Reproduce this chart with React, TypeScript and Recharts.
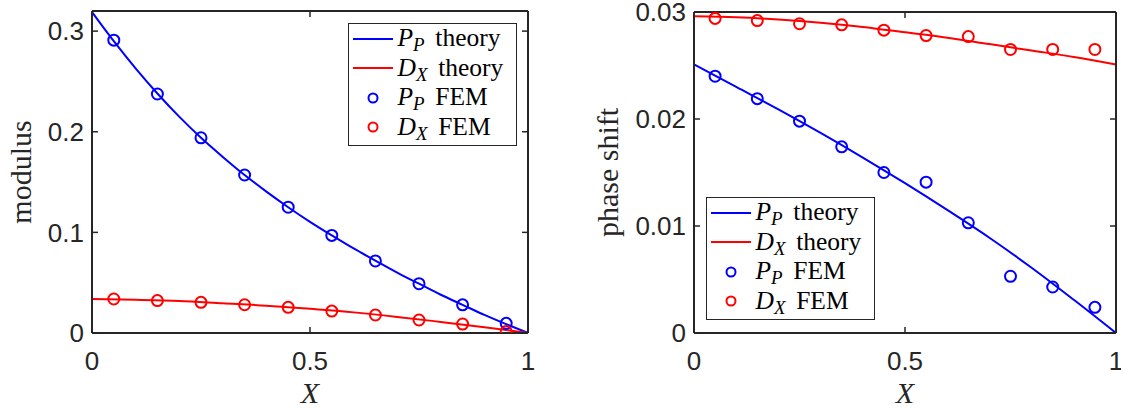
import React from 'react';
import { ComposedChart, Line, Scatter, XAxis, YAxis, Legend } from 'recharts';

// ---- tick values / labels ----
const xTicks = [0, 0.5, 1];
const xTickLabels = ['0', '0.5', '1'];
const modTicks = [0, 0.1, 0.2, 0.3];
const modTickLabels = ['0', '0.1', '0.2', '0.3'];
const phaseTicks = [0, 0.01, 0.02, 0.03];
const phaseTickLabels = ['0', '0.01', '0.02', '0.03'];

// ---- left panel: modulus ----
const modPTheoryX = [0, 0.05, 0.1, 0.15, 0.2, 0.25, 0.3, 0.35, 0.4, 0.45, 0.5, 0.55, 0.6, 0.65, 0.7, 0.75, 0.8, 0.85, 0.9, 0.95, 1];
const modPTheory = [0.319, 0.29, 0.263, 0.238, 0.215, 0.194, 0.175, 0.157, 0.1405, 0.125, 0.1105, 0.097, 0.084, 0.072, 0.06, 0.049, 0.038, 0.028, 0.018, 0.0088, 0];
const modDTheoryX = [0, 0.1, 0.2, 0.3, 0.4, 0.5, 0.6, 0.7, 0.8, 0.9, 1];
const modDTheory = [0.0338, 0.033, 0.0318, 0.0295, 0.0272, 0.024, 0.0205, 0.016, 0.011, 0.0058, 0];
const femX = [0.05, 0.15, 0.25, 0.35, 0.45, 0.55, 0.65, 0.75, 0.85, 0.95];
const modPFem = [0.291, 0.2375, 0.194, 0.157, 0.125, 0.097, 0.0716, 0.049, 0.028, 0.0096];
const modDFem = [0.0338, 0.0322, 0.0305, 0.0281, 0.0255, 0.0218, 0.0179, 0.0129, 0.0089, 0.0015];

// ---- right panel: phase shift ----
const phaseTheoryX = [0, 0.1, 0.2, 0.3, 0.4, 0.5, 0.6, 0.7, 0.8, 0.9, 1];
const phasePTheory = [0.0251, 0.023, 0.0209, 0.0187, 0.0164, 0.014, 0.0115, 0.0089, 0.0061, 0.0031, 0];
const phaseDTheory = [0.0296, 0.0295, 0.0293, 0.029, 0.0286, 0.0281, 0.0276, 0.027, 0.0264, 0.0258, 0.0251];
const phasePFem = [0.024, 0.0219, 0.0198, 0.0174, 0.015, 0.0141, 0.0103, 0.0053, 0.0043, 0.0024];
const phaseDFem = [0.0294, 0.0292, 0.0289, 0.0288, 0.0283, 0.0278, 0.0277, 0.0265, 0.0265, 0.0265];

const BLUE = '#0000ff';
const RED = '#ff0000';
const AXIS = '#262626';

const rows = (xs: number[], ys: number[]) => xs.map((x, i) => ({ x, y: ys[i] }));

const fmt = (ticks: number[], labels: string[]) => (v: number) => {
  const i = ticks.indexOf(v);
  return i >= 0 ? labels[i] : '';
};

const tickStyle = { fill: AXIS, fontSize: 26, fontFamily: '"Liberation Sans", Arial, sans-serif' };
const lineStyle = { stroke: AXIS, strokeWidth: 2 };
const tickLineStyle = { stroke: AXIS, strokeWidth: 1.5 };
const serif = '"Liberation Serif", "Times New Roman", serif';

const circleShape = (color: string) => (p: any) => (
  <circle cx={p.cx} cy={p.cy} r={5.5} fill="none" stroke={color} strokeWidth={2} />
);

const legendEntries = [
  { kind: 'line', color: BLUE, sym: 'P', sub: 'P', text: 'theory' },
  { kind: 'line', color: RED, sym: 'D', sub: 'X', text: 'theory' },
  { kind: 'circle', color: BLUE, sym: 'P', sub: 'P', text: 'FEM' },
  { kind: 'circle', color: RED, sym: 'D', sub: 'X', text: 'FEM' },
];

const LegendBox = () => (
  <div
    style={{
      boxSizing: 'border-box',
      width: 169,
      height: 123,
      border: `1.5px solid ${AXIS}`,
      background: '#fff',
      paddingLeft: 3.5,
      fontFamily: serif,
      fontSize: 25.5,
      color: '#000',
      overflow: 'visible',
    }}
  >
    {legendEntries.map((e, i) => (
      <div key={i} style={{ height: 29.5, display: 'flex', alignItems: 'center', lineHeight: '29.5px', whiteSpace: 'nowrap' }}>
        <svg width={45} height={20} style={{ flex: 'none' }}>
          {e.kind === 'line' ? (
            <line x1={0} y1={10} x2={40} y2={10} stroke={e.color} strokeWidth={2} />
          ) : (
            <circle cx={20} cy={10} r={4.5} fill="none" stroke={e.color} strokeWidth={2} />
          )}
        </svg>
        <span>
          <i>{e.sym}</i>
          <i style={{ fontSize: '0.74em', position: 'relative', top: '0.28em' }}>{e.sub}</i>
          <span style={{ marginLeft: '0.42em' }}>{e.text}</span>
        </span>
      </div>
    ))}
  </div>
);

type PanelProps = {
  width: number;
  yAxisWidth: number;
  rightMargin: number;
  topMargin: number;
  domainMax: number;
  yTicks: number[];
  yLabels: string[];
  yTitle: string;
  yTitleX: number;
  legendLeft: number;
  legendTop: number;
  pTheory: { x: number; y: number }[];
  dTheory: { x: number; y: number }[];
  pFem: { x: number; y: number }[];
  dFem: { x: number; y: number }[];
};

const Panel = (p: PanelProps) => (
  <ComposedChart
    width={p.width}
    height={408}
    margin={{ top: p.topMargin, right: p.rightMargin, bottom: 0, left: 0 }}
  >
    <XAxis
      xAxisId={0}
      dataKey="x"
      type="number"
      domain={[0, 1]}
      ticks={xTicks}
      tickFormatter={fmt(xTicks, xTickLabels)}
      height={75}
      tickSize={-6}
      tickMargin={25}
      axisLine={lineStyle}
      tickLine={tickLineStyle}
      tick={tickStyle}
      interval={0}
      allowDataOverflow
      label={{
        content: (lp: any) => {
          const vb = lp.viewBox;
          return (
            <text
              x={vb.x + vb.width / 2}
              y={vb.y + vb.height - 5}
              textAnchor="middle"
              fontFamily={serif}
              fontStyle="italic"
              fontSize={30}
              fill={AXIS}
            >
              X
            </text>
          );
        },
      }}
    />
    <XAxis
      xAxisId="top"
      dataKey="x"
      orientation="top"
      type="number"
      domain={[0, 1]}
      ticks={xTicks}
      tickFormatter={() => ''}
      height={1}
      tickSize={-6}
      axisLine={lineStyle}
      tickLine={tickLineStyle}
      interval={0}
      allowDataOverflow
    />
    <YAxis
      yAxisId={0}
      type="number"
      domain={[0, p.domainMax]}
      ticks={p.yTicks}
      tickFormatter={fmt(p.yTicks, p.yLabels)}
      width={p.yAxisWidth}
      tickSize={-6}
      tickMargin={14}
      axisLine={lineStyle}
      tickLine={tickLineStyle}
      tick={tickStyle}
      interval={0}
      allowDataOverflow
      label={{
        content: (lp: any) => {
          const vb = lp.viewBox;
          const x = vb.x + p.yTitleX;
          const y = vb.y + vb.height / 2;
          return (
            <text
              x={x}
              y={y}
              transform={`rotate(-90 ${x} ${y})`}
              textAnchor="middle"
              fontFamily={serif}
              fontSize={30}
              fill={AXIS}
            >
              {p.yTitle}
            </text>
          );
        },
      }}
    />
    <YAxis
      yAxisId="right"
      orientation="right"
      type="number"
      domain={[0, p.domainMax]}
      ticks={p.yTicks}
      tickFormatter={() => ''}
      width={1}
      tickSize={-6}
      axisLine={lineStyle}
      tickLine={tickLineStyle}
      interval={0}
      allowDataOverflow
    />
    <Line data={p.pTheory} dataKey="y" type="monotone" stroke={BLUE} strokeWidth={2} dot={false} activeDot={false} isAnimationActive={false} name="P_P theory" />
    <Line data={p.dTheory} dataKey="y" type="monotone" stroke={RED} strokeWidth={2} dot={false} activeDot={false} isAnimationActive={false} name="D_X theory" />
    <Scatter data={p.pFem} dataKey="y" shape={circleShape(BLUE)} isAnimationActive={false} name="P_P FEM" />
    <Scatter data={p.dFem} dataKey="y" shape={circleShape(RED)} isAnimationActive={false} name="D_X FEM" />
    <Legend
      layout="horizontal"
      verticalAlign="middle"
      align="center"
      content={() => <LegendBox />}
      wrapperStyle={{ position: 'absolute', left: p.legendLeft, top: p.legendTop, width: 169, height: 123, margin: 0, padding: 0 }}
    />
  </ComposedChart>
);

export default function App() {
  return (
    <div style={{ position: 'absolute', left: 0, top: 0, width: 1121, height: 408, background: '#fff', overflow: 'hidden' }}>
      <div style={{ position: 'absolute', left: 0, top: 0 }}>
        <Panel
          width={560}
          yAxisWidth={92}
          rightMargin={31}
          topMargin={10}
          domainMax={0.32}
          yTicks={modTicks}
          yLabels={modTickLabels}
          yTitle="modulus"
          yTitleX={31}
          legendLeft={348}
          legendTop={23}
          pTheory={rows(modPTheoryX, modPTheory)}
          dTheory={rows(modDTheoryX, modDTheory)}
          pFem={rows(femX, modPFem)}
          dFem={rows(femX, modDFem)}
        />
      </div>
      <div style={{ position: 'absolute', left: 560, top: 0 }}>
        <Panel
          width={561}
          yAxisWidth={134}
          rightMargin={4}
          topMargin={11}
          domainMax={0.03}
          yTicks={phaseTicks}
          yLabels={phaseTickLabels}
          yTitle="phase shift"
          yTitleX={58}
          legendLeft={146}
          legendTop={197}
          pTheory={rows(phaseTheoryX, phasePTheory)}
          dTheory={rows(phaseTheoryX, phaseDTheory)}
          pFem={rows(femX, phasePFem)}
          dFem={rows(femX, phaseDFem)}
        />
      </div>
    </div>
  );
}
